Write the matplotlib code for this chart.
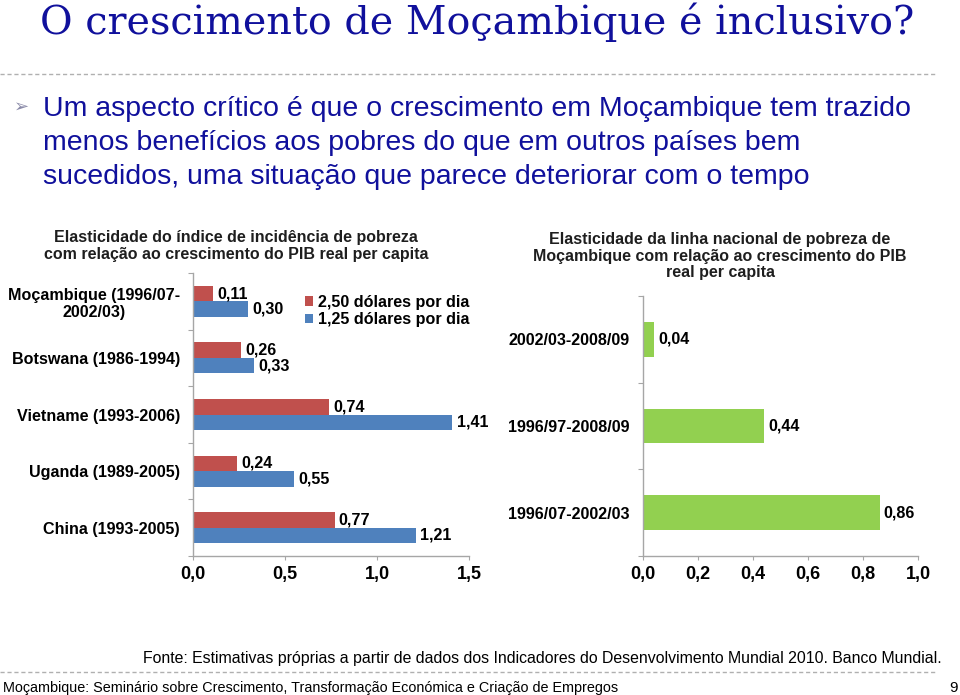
import numpy as np
import matplotlib
matplotlib.use("Agg")
import matplotlib.pyplot as plt
from matplotlib.lines import Line2D

plt.rcParams['font.family'] = ['Liberation Sans', 'DejaVu Sans']

# dados do grafico da esquerda (elasticidade do indice de incidencia)
categorias = ['Moçambique (1996/07-\n2002/03)', 'Botswana (1986-1994)',
              'Vietname (1993-2006)', 'Uganda (1989-2005)', 'China (1993-2005)']
serie_250 = [0.11, 0.26, 0.74, 0.24, 0.77]
serie_125 = [0.30, 0.33, 1.41, 0.55, 1.21]
nomes_series = ['2,50 dólares por dia', '1,25 dólares por dia']
ticks_esq = [0.0, 0.5, 1.0, 1.5]

# dados do grafico da direita (linha nacional de pobreza)
periodos = ['2002/03-2008/09', '1996/97-2008/09', '1996/07-2002/03']
elasticidade = [0.04, 0.44, 0.86]
ticks_dir = [0.0, 0.2, 0.4, 0.6, 0.8, 1.0]

W, H = 960, 695
AZUL_TXT = '#10109c'
CINZA = '#a6a6a6'
FS = 11.6  # texto dos graficos


def fx(x):  # pixel -> fracao da figura
    return x / W


def fy(y):
    return 1 - y / H


def virgula(v, casas=2):
    return f'{v:.{casas}f}'.replace('.', ',')


def estilo_eixo(ax, ncat, ticks):
    for s in ['top', 'right']:
        ax.spines[s].set_visible(False)
    for s in ['left', 'bottom']:
        ax.spines[s].set_color(CINZA)
        ax.spines[s].set_linewidth(1)
    ax.set_ylim(ncat - 0.5, -0.5)
    ax.set_yticks(np.arange(-0.5, ncat, 1))
    ax.set_yticklabels([])
    ax.tick_params(axis='y', which='major', length=3.5, color=CINZA)
    ax.set_xticks(ticks)
    ax.set_xticklabels([virgula(t, 1) for t in ticks], fontsize=13, fontweight='bold')
    ax.set_xlim(ticks[0], ticks[-1])
    ax.tick_params(axis='x', length=3, color=CINZA, pad=4.5)


fig = plt.figure(figsize=(W / 100, H / 100), dpi=100)

# titulo e texto do slide
fig.text(fx(40), fy(34), 'O crescimento de Moçambique é inclusivo?', family='DejaVu Serif',
         fontsize=28.5, color=AZUL_TXT, va='baseline')
fig.add_artist(Line2D([0, fx(935)], [fy(74), fy(74)], transform=fig.transFigure,
                      color='#b0b0b0', lw=1, ls=(0, (3, 2))))
fig.text(fx(14), fy(107), '➢', family='DejaVu Sans', fontsize=13, color='#8a8aa8', va='center')
linhas = ['Um aspecto crítico é que o crescimento em Moçambique tem trazido',
          'menos benefícios aos pobres do que em outros países bem',
          'sucedidos, uma situação que parece deteriorar com o tempo']
for i, l in enumerate(linhas):
    fig.text(fx(43), fy(116 + 34 * i), l, fontsize=20.5, color=AZUL_TXT, va='baseline')

# grafico da esquerda
ax1 = fig.add_axes([fx(193), fy(556), (469 - 193) / W, (556 - 273) / H])
y = np.arange(len(categorias))
h = 0.274
b1 = ax1.barh(y - h / 2, serie_250, height=h, color='#c0504d', label=nomes_series[0])
b2 = ax1.barh(y + h / 2, serie_125, height=h, color='#4f81bd', label=nomes_series[1])
for b, s in [(b1, serie_250), (b2, serie_125)]:
    ax1.bar_label(b, labels=[virgula(v) for v in s], padding=3, fontsize=FS, fontweight='bold')
estilo_eixo(ax1, len(categorias), ticks_esq)
ax1.set_yticks(y, minor=True)
ax1.set_yticklabels(categorias, minor=True, fontsize=FS, fontweight='bold',
                    multialignment='center', linespacing=1.2)
ax1.tick_params(axis='y', which='minor', length=0, pad=9.4)
ax1.legend(loc='center left', bbox_to_anchor=(fx(305), fy(311)), bbox_transform=fig.transFigure,
           frameon=False, prop={'size': FS, 'weight': 'bold'}, handlelength=0.5, handleheight=0.5,
           handletextpad=0.3, labelspacing=0.15, borderpad=0, borderaxespad=0)
fig.text(fx(236), fy(246), 'Elasticidade do índice de incidência de pobreza\n'
         'com relação ao crescimento do PIB real per capita', ha='center', va='center',
         fontsize=11.5, fontweight='bold', linespacing=1.12, color='#1e1e1e')

# grafico da direita
ax2 = fig.add_axes([fx(643), fy(556), (918 - 643) / W, (556 - 296) / H])
y2 = np.arange(len(periodos))
b3 = ax2.barh(y2, elasticidade, height=0.4, color='#92d050')
ax2.bar_label(b3, labels=[virgula(v) for v in elasticidade], padding=3, fontsize=FS, fontweight='bold')
estilo_eixo(ax2, len(periodos), ticks_dir)
ax2.set_yticks(y2, minor=True)
ax2.set_yticklabels(periodos, minor=True, fontsize=FS, fontweight='bold')
ax2.tick_params(axis='y', which='minor', length=0, pad=9.4)
fig.text(fx(720), fy(256), 'Elasticidade da linha nacional de pobreza de\n'
         'Moçambique com relação ao crescimento do PIB\nreal per capita', ha='center', va='center',
         fontsize=11.5, fontweight='bold', linespacing=1.1, color='#1e1e1e')

# rodape
fig.text(fx(143), fy(663), 'Fonte: Estimativas próprias a partir de dados dos Indicadores do '
         'Desenvolvimento Mundial 2010. Banco Mundial.', fontsize=11.4, va='baseline')
fig.add_artist(Line2D([0, fx(935)], [fy(672), fy(672)], transform=fig.transFigure,
                      color='#b0b0b0', lw=1, ls=(0, (3, 2))))
fig.text(fx(3), fy(692), 'Moçambique: Seminário sobre Crescimento, Transformação Económica e '
         'Criação de Empregos', fontsize=10.4, va='baseline')
fig.text(fx(958), fy(692), '9', fontsize=11, va='baseline', ha='right')

fig.savefig('out.png', dpi=100)
